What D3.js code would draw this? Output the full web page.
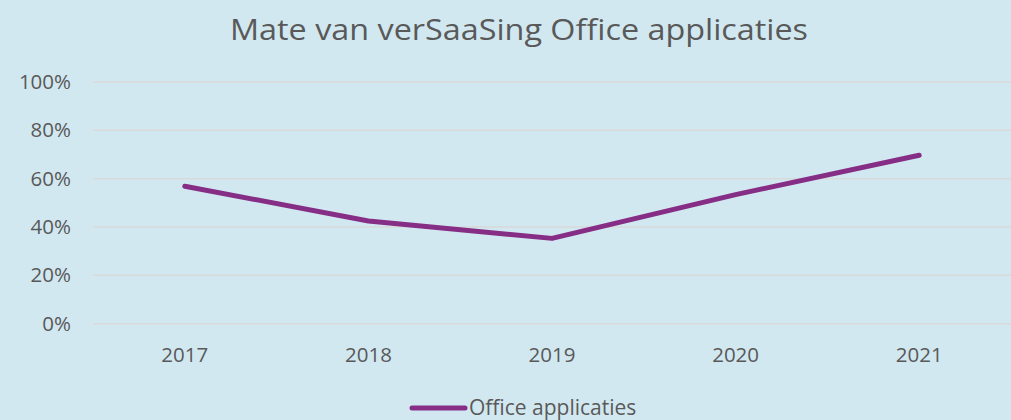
<!DOCTYPE html>
<html>
<head>
<meta charset="utf-8">
<script src="https://cdn.jsdelivr.net/npm/d3@7"></script>
<style>
  html, body { margin: 0; padding: 0; background: #d2e8f0; }
  svg { display: block; font-family: "Open Sans", "Noto Sans", sans-serif; }
</style>
</head>
<body>
<div id="chart"></div>
<script>
// Data
const years = ["2017", "2018", "2019", "2020", "2021"];
const officeValues = [0.569, 0.425, 0.353, 0.534, 0.697];
const yTicks = [0, 0.2, 0.4, 0.6, 0.8, 1.0];
const seriesName = "Office applicaties";
const title = "Mate van verSaaSing Office applicaties";

const width = 1011, height = 420;
const margin = { top: 82, right: 0, bottom: 96, left: 93 };

const svg = d3.select("#chart")
  .append("svg")
  .attr("width", width)
  .attr("height", height);

svg.append("rect")
  .attr("width", width)
  .attr("height", height)
  .attr("fill", "#d2e8f0");

const x = d3.scaleBand()
  .domain(years)
  .range([margin.left, width - margin.right]);

const y = d3.scaleLinear()
  .domain([0, 1])
  .range([height - margin.bottom - 0.3, margin.top]);

// Title
svg.append("text")
  .attr("x", 519)
  .attr("y", 40)
  .attr("text-anchor", "middle")
  .attr("font-size", 30)
  .attr("fill", "#595959")
  .attr("textLength", 578)
  .attr("lengthAdjust", "spacingAndGlyphs")
  .text(title);

// Gridlines
svg.append("g")
  .selectAll("line")
  .data(yTicks)
  .join("line")
  .attr("x1", margin.left)
  .attr("x2", width - margin.right)
  .attr("y1", d => y(d))
  .attr("y2", d => y(d))
  .attr("stroke", "#d9d9d9")
  .attr("stroke-width", 1.5);

// Y axis labels
const yAxis = d3.axisLeft(y)
  .tickValues(yTicks)
  .tickFormat(d3.format(".0%"))
  .tickSize(0)
  .tickPadding(22);

svg.append("g")
  .attr("transform", `translate(${margin.left},0)`)
  .call(yAxis)
  .call(g => g.select(".domain").remove())
  .call(g => g.selectAll("text")
    .attr("font-size", 20.5)
    .attr("fill", "#595959")
    .attr("font-family", "'Open Sans', sans-serif"));

// X axis labels
const xAxis = d3.axisBottom(x)
  .tickSize(0)
  .tickPadding(24);

svg.append("g")
  .attr("transform", `translate(0,${y(0)})`)
  .call(xAxis)
  .call(g => g.select(".domain").remove())
  .call(g => g.selectAll("text")
    .attr("font-size", 20.5)
    .attr("fill", "#595959")
    .attr("font-family", "'Open Sans', sans-serif"));

// Line
const line = d3.line()
  .x((d, i) => x(years[i]) + x.bandwidth() / 2)
  .y(d => y(d));

svg.append("path")
  .datum(officeValues)
  .attr("d", line)
  .attr("fill", "none")
  .attr("stroke", "#862d86")
  .attr("stroke-width", 5)
  .attr("stroke-linecap", "round")
  .attr("stroke-linejoin", "round");

// Legend
const legend = svg.append("g").attr("class", "legend");
legend.append("line")
  .attr("x1", 412)
  .attr("x2", 465)
  .attr("y1", 408)
  .attr("y2", 408)
  .attr("stroke", "#862d86")
  .attr("stroke-width", 5)
  .attr("stroke-linecap", "round");
legend.append("text")
  .attr("x", 469)
  .attr("y", 415)
  .attr("font-size", 21)
  .attr("fill", "#595959")
  .text(seriesName);
</script>
</body>
</html>
